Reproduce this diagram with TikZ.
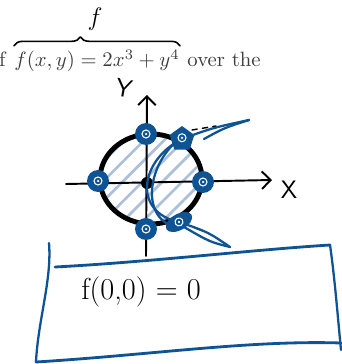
\documentclass[tikz,border=0pt]{standalone}
\usepackage{amsmath, amssymb}
\usepackage{tikz}
\usetikzlibrary{arrows.meta, shapes.geometric, positioning, decorations.pathreplacing, calc, patterns.meta}
\definecolor{penblue}{RGB}{14, 84, 148}
\definecolor{hatchblue}{RGB}{172, 192, 222}
\definecolor{printgray}{RGB}{60, 60, 60}

\begin{document}
\begin{tikzpicture}[x=0.02cm, y=-0.02cm, every node/.style={font=\small},
  pen/.style={line cap=round, line join=round},
  printed/.style={text=printgray, font=\normalsize, scale=1.18, transform shape, inner sep=0pt},
  bdot/.style={circle, fill=penblue, minimum size=0.44cm, inner sep=0pt,
    path picture={\draw[white, line width=0.6pt] (path picture bounding box.center) circle (0.08cm);
      \fill[white] (path picture bounding box.center) circle (0.025cm);}},
  axisline/.style={pen, black, line width=1.1pt, -{Straight Barb[length=5pt, width=10pt]}},
  bluestroke/.style={pen, penblue, line width=1.3pt}]

\useasboundingbox (0,0) rectangle (341,364);

% ── Printed line with brace ─────────────────────────────────────
\node[printed, anchor=base west] (eq) at (14,67) {$f(x,y) = 2x^3 + y^4$};
\node[printed, anchor=base east] (of) at (6,67) {f};
\node[printed, base right=4pt of eq] (over) {over the};
\draw[pen, decorate, decoration={brace, amplitude=5pt, aspect=0.4}, line width=0.9pt]
  ($(eq.north west)+(0,-4)$) -- ($(eq.north east)+(0,-4)$);
\node[font=\Large] (fhand) at (95,19) {$f$};

% ── Disk ────────────────────────────────────────────────────────
\draw[pen, line width=2.8pt, pattern={Lines[angle=45, distance=8pt, line width=1.6pt]},
  pattern color=hatchblue] (151,179) ellipse (1.02cm and 0.9cm);

% ── Axes ────────────────────────────────────────────────────────
\coordinate (O) at (147,183);
\coordinate (ybot) at (146,256);
\coordinate (ytop) at (147,95);
\coordinate (xleft) at (66,184);
\coordinate (xright) at (272,180);
\draw[axisline] (ybot) -- (ytop);
\draw[axisline] (xleft) -- (xright);
\node[font=\Large\sffamily, rotate=-10] (ylab) at (124,88) {Y};
\node[font=\Large\sffamily] (xlab) at (289,190) {X};
\node[circle, fill=black, minimum size=0.24cm, inner sep=0pt] (cdot) at (O) {};

% ── Blue curve and tails ────────────────────────────────────────
\coordinate (tailA) at (249,120);
\coordinate (tailB) at (230,247);
\draw[pen, black, dashed, line width=0.8pt] (192,130) -- (216,126);
\draw[pen, black, line width=0.8pt] (195,228) -- (203,231);
\draw[bluestroke] (182,139) .. controls (140,160) and (132,212) .. (179,222);
\draw[bluestroke] (185,135) .. controls (148,158) and (138,218) .. (176,227);
\draw[bluestroke] (182,139) .. controls (212,128) .. (tailA);
\draw[bluestroke] (tailA) .. controls (224,128) .. (204,139);
\draw[bluestroke] (179,222) .. controls (208,232) .. (tailB);
\draw[bluestroke] (tailB) .. controls (210,242) .. (184,227);

% ── Blue dots ───────────────────────────────────────────────────
\node[bdot] (ptop) at (146,134) {};
\node[bdot] (pleft) at (98,181) {};
\node[bdot] (pright) at (203,182) {};
\node[bdot] (pbot) at (146,229) {};
\node[bdot, shape=regular polygon, regular polygon sides=5, minimum size=0.52cm] (ptr) at (182,139) {};
\node[bdot, shape=ellipse, minimum width=0.58cm, minimum height=0.32cm, rotate=30] (pbr) at (179,222) {};

% ── Box ─────────────────────────────────────────────────────────
\draw[pen, penblue, line width=1.6pt] (55,267) .. controls (150,262) and (250,250) .. (330,245);
\draw[pen, penblue, line width=1.3pt] (49,243) .. controls (52,280) and (38,320) .. (36,362);
\draw[pen, penblue, line width=1.6pt] (36,362) .. controls (150,355) and (250,340) .. (341,343);
\draw[pen, penblue, line width=1.3pt] (330,245) .. controls (335,280) and (338,320) .. (341,350);
\node[font=\LARGE] (val) at (141,292) {f(0,0) = 0};

\end{tikzpicture}
\end{document}
